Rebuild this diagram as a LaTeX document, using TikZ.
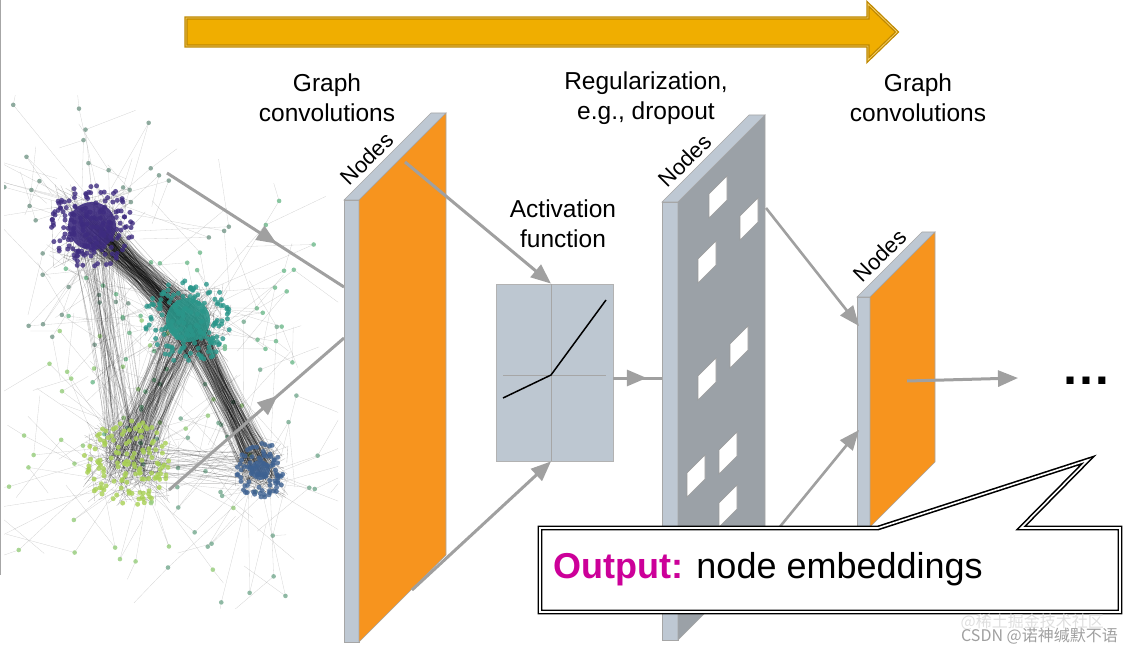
\documentclass[tikz,border=0pt]{standalone}
\usepackage{fontspec}
\setmainfont{Liberation Sans}
\newfontfamily\cjkfont{Noto Sans CJK SC}
\usepackage{xcolor}
\usetikzlibrary{arrows.meta, decorations.markings}
\definecolor{slaborange}{RGB}{247,148,30}
\definecolor{slabedge}{RGB}{190,200,211}
\definecolor{dropgray}{RGB}{155,161,167}
\definecolor{actfill}{RGB}{189,199,209}
\definecolor{flowgray}{RGB}{160,160,160}
\definecolor{bannerfill}{RGB}{240,174,0}
\definecolor{bannerline}{RGB}{190,136,0}
\definecolor{outputpink}{RGB}{204,0,153}
\definecolor{clpurple}{RGB}{62,44,128}
\definecolor{clteal}{RGB}{42,150,138}
\definecolor{cllime}{RGB}{168,208,84}
\definecolor{clblue}{RGB}{62,98,146}
\definecolor{clmint}{RGB}{150,206,150}

\begin{document}
\begin{tikzpicture}[
    x=1pt, y=-1pt,
    headtext/.style={font=\fontsize{24.5}{30}\selectfont, align=center, inner sep=0},
    nodestext/.style={font=\fontsize{22}{24}\selectfont, rotate=45, anchor=south west, inner sep=0},
    slabside/.style={draw=gray!70, line width=.6pt},
    hole/.style={draw=gray!80, line width=.6pt, fill=white},
    actbox/.style={draw=gray!60, fill=actfill, line width=.8pt, minimum width=117pt, minimum height=177pt, inner sep=0},
    flow/.style={draw=flowgray, line width=3pt, -{Triangle[length=20pt, width=16pt]}},
    midflow/.style={draw=flowgray, line width=3pt, postaction={decorate},
        decoration={markings, mark=at position #1 with {\arrow[flowgray]{Triangle[length=20pt, width=16pt]}}}},
    banner/.style={fill=bannerfill, draw=bannerline, line width=1.3pt, double=bannerfill!60!white, double distance=.8pt},
    callout/.style={fill=white, draw=black, line width=1.6pt, double=white, double distance=1.6pt},
    netlink/.style={draw=black!50, opacity=.35, line width=.3pt},
    netdense/.style={draw=black, opacity=.25, line width=.35pt}
]
    \useasboundingbox (0,0) rectangle (1131,652);
    \draw[gray!70, line width=1.2pt] (0.6,0) -- (0.6,575);

    % progress banner
    \draw[banner] (186,18) -- (868,18) -- (868,4) -- (897,32) -- (868,60) -- (868,46) -- (186,46) -- cycle;

    % input graph
    \pgfmathsetseed{11}
    \begin{scope}
        \clip (4,96) rectangle (338,608);
        \foreach \cx/\cy/\cc in {92/226/clpurple, 188/320/clteal, 127/463/cllime, 260/470/clblue}{
            \foreach \i in {1,...,40}{
                \pgfmathsetmacro\ta{360*rnd}
                \pgfmathsetmacro\ra{45+105*rnd}
                \pgfmathsetmacro\px{\cx+\ra*cos(\ta)}
                \pgfmathsetmacro\py{\cy+\ra*sin(\ta)}
                \pgfmathsetmacro\qx{\cx+30*rand}
                \pgfmathsetmacro\qy{\cy+30*rand}
                \pgfmathsetmacro\sx{\px+70*rand}
                \pgfmathsetmacro\sy{\py+70*rand}
                \draw[netlink] (\px,\py) -- (\qx,\qy);
                \draw[netlink] (\px,\py) -- (\sx,\sy);
                \fill[\cc!30!clmint, opacity=.85] (\px,\py) circle (2.3);
            }
        }
        \foreach \ax/\ay/\bx/\by/\n/\w in {92/226/188/320/220/18, 188/320/260/470/160/16, 188/320/127/463/130/24, 92/226/127/463/50/22, 127/463/260/470/25/22}{
            \foreach \i in {1,...,\n}{
                \pgfmathsetmacro\px{\ax+\w*rand}
                \pgfmathsetmacro\py{\ay+\w*rand}
                \pgfmathsetmacro\qx{\bx+\w*rand}
                \pgfmathsetmacro\qy{\by+\w*rand}
                \draw[netdense] (\px,\py) -- (\qx,\qy);
            }
        }
        \foreach \cx/\cy/\cr/\cs/\n/\cc in {92/226/24/42/170/clpurple, 188/320/22/44/160/clteal, 127/463/4/44/130/cllime, 260/470/10/28/90/clblue}{
            \foreach \i in {1,...,70}{
                \pgfmathsetmacro\px{\cx+\cs*rand}
                \pgfmathsetmacro\py{\cy+\cs*rand}
                \pgfmathsetmacro\qx{\cx+\cs*rand}
                \pgfmathsetmacro\qy{\cy+\cs*rand}
                \draw[netdense] (\px,\py) -- (\qx,\qy);
            }
            \fill[\cc, opacity=.9] (\cx,\cy) circle (\cr);
            \foreach \i in {1,...,\n}{
                \pgfmathsetmacro\ta{360*rnd}
                \pgfmathsetmacro\ra{\cs*sqrt(rnd)}
                \pgfmathsetmacro\px{\cx+\ra*cos(\ta)}
                \pgfmathsetmacro\py{\cy+\ra*sin(\ta)}
                \fill[\cc, opacity=.8] (\px,\py) circle (2.5);
            }
        }
    \end{scope}

    % labels
    \node[headtext] (conv1title) at (327,98) {Graph\\convolutions};
    \node[headtext] (droptitle) at (646,98) {Regularization,\\e.g., dropout};
    \node[headtext] (conv2title) at (918,98) {Graph\\convolutions};
    \node[headtext] (acttitle) at (563,224) {Activation\\function};

    % graph to first slab
    \coordinate (netA) at (167,173);
    \coordinate (netB) at (169,490);
    \coordinate (conv1a) at (344,287);
    \coordinate (conv1b) at (344,338);
    \draw[midflow=.62] (netA) -- (conv1a);
    \draw[midflow=.62] (netB) -- (conv1b);

    % first convolution slab
    \draw[slabside, fill=slabedge] (344,200) rectangle (359,642);
    \draw[slabside, fill=slabedge] (344,200) -- (359,200) -- (446,113) -- (431,113) -- cycle;
    \draw[slabside, fill=slaborange] (359,200) -- (446,113) -- (446,555) -- (359,642) -- cycle;
    \node[nodestext] (conv1nodes) at (350,187) {Nodes};

    % activation
    \node[actbox] (act) at (554.5,372.5) {};
    \coordinate (actx) at (551,375);
    \draw[gray!70, line width=.8pt] (act.north -| actx) -- (act.south -| actx);
    \draw[gray!70, line width=.8pt] (503,375) -- (606,375);
    \draw[line width=1.5pt] (503,398) -- (actx) -- (606,300);

    \coordinate (conv1c) at (405,162);
    \coordinate (conv1d) at (412,590);
    \draw[flow] (conv1c) -- (act.north -| actx);
    \draw[flow] (conv1d) -- (act.south -| actx);

    % dropout slab
    \coordinate (actout) at (613,378);
    \coordinate (dropin) at (662,378);
    \draw[midflow=.69] (actout) -- (dropin);
    \draw[slabside, fill=slabedge] (662,202) rectangle (678,640);
    \draw[slabside, fill=slabedge] (662,202) -- (678,202) -- (765,115) -- (749,115) -- cycle;
    \draw[slabside, fill=dropgray] (678,202) -- (765,115) -- (765,553) -- (678,640) -- cycle;
    \foreach \hx/\hy in {709/218, 740/240, 698/283, 730/368, 698/400, 719/474, 687/497, 719/527}
        \draw[hole] (\hx,\hy) -- ++(0,-24) -- ++(18,-18) -- ++(0,24) -- cycle;
    \node[nodestext] (dropnodes) at (668,189) {Nodes};

    % second convolution slab
    \draw[slabside, fill=slabedge] (857,297) rectangle (870,527);
    \draw[slabside, fill=slabedge] (857,297) -- (870,297) -- (935,232) -- (922,232) -- cycle;
    \draw[slabside, fill=slaborange] (870,297) -- (935,232) -- (935,462) -- (870,527) -- cycle;
    \node[nodestext] (conv2nodes) at (863,284) {Nodes};

    \coordinate (dropup) at (766,208);
    \coordinate (droplow) at (765,545);
    \coordinate (conv2a) at (859,326);
    \coordinate (conv2b) at (859,430);
    \draw[flow, line width=2.6pt] (dropup) -- (conv2a);
    \draw[flow, line width=2.6pt] (droplow) -- (conv2b);

    % onwards
    \coordinate (conv2out) at (907,381);
    \coordinate (moreend) at (1018,378);
    \draw[flow] (conv2out) -- (moreend);
    \node[font=\bfseries\fontsize{50}{50}\selectfont, inner sep=0, anchor=base] (more) at (1086,384) {…};

    % output callout
    \draw[callout] (540,528) -- (878,528) -- (1088,460) -- (1021,528) -- (1120,528) -- (1120,612) -- (540,612) -- cycle;
    \node[anchor=base west, inner sep=0, font=\fontsize{36}{40}\selectfont] (output) at (553,578)
        {\textcolor{outputpink}{\textbf{Output:}} node embeddings};

    % watermark
    \node[anchor=east, inner sep=0, font=\cjkfont\fontsize{16}{18}\selectfont, text=gray!25] (mark1) at (1104,622) {@稀土掘金技术社区};
    \node[anchor=east, inner sep=0, font=\cjkfont\fontsize{16}{18}\selectfont, text=gray!75] (mark2) at (1118,636) {CSDN @诺神缄默不语};
\end{tikzpicture}
\end{document}
